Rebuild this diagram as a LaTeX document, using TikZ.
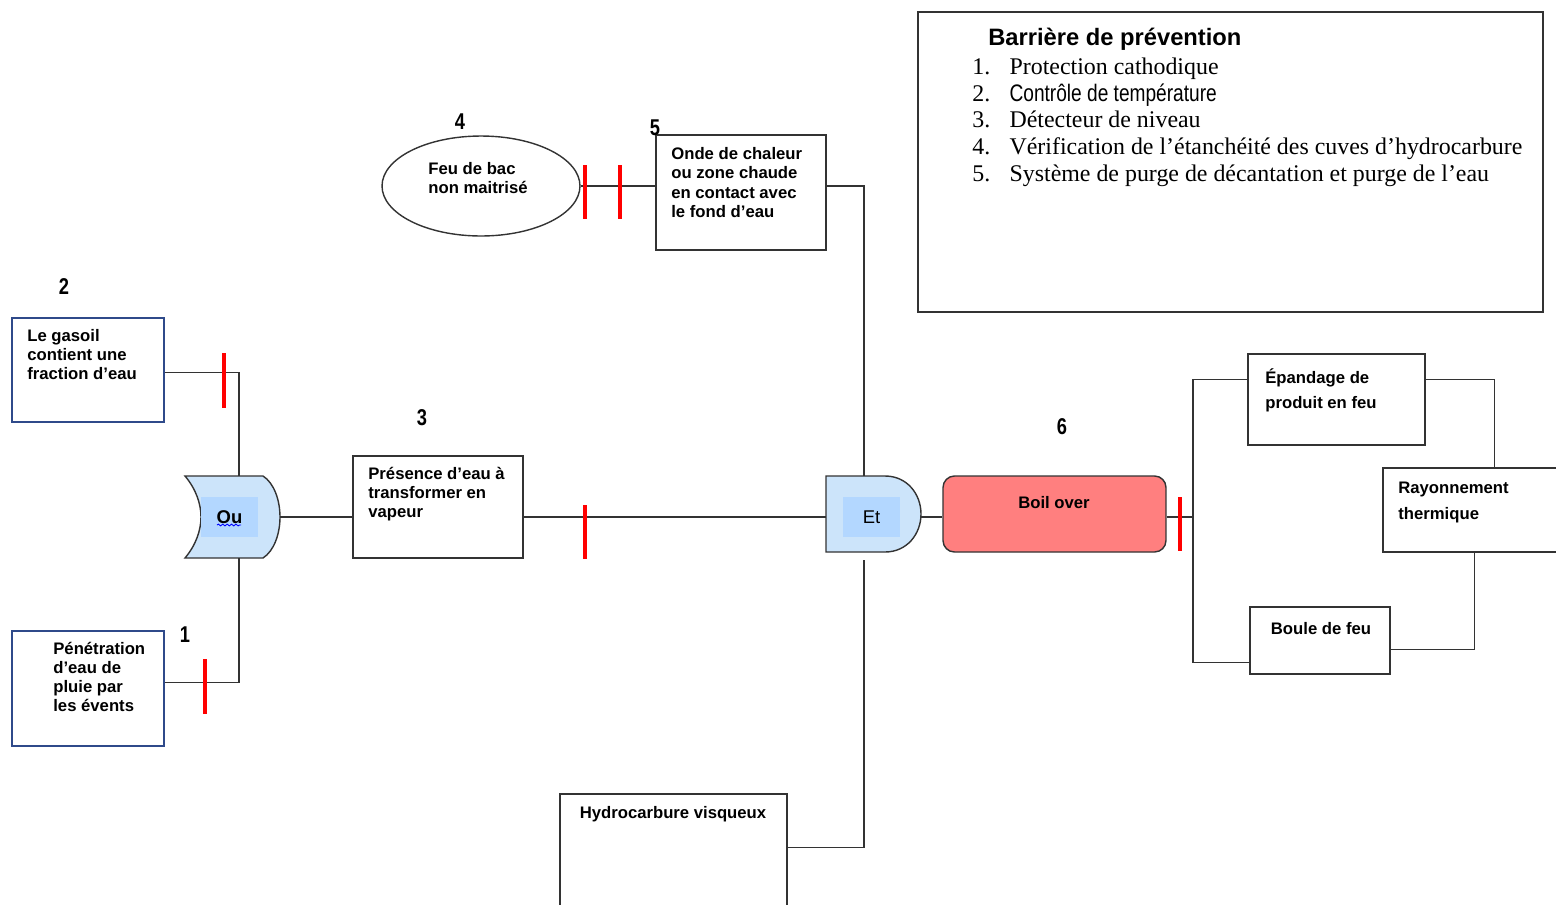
\documentclass[tikz,border=0pt]{standalone}
\usepackage{fontspec}
\setmainfont{Liberation Serif}
\setsansfont{Liberation Sans}
\newfontfamily\narrowsans{Liberation Sans}[FakeStretch=0.8]
\usetikzlibrary{shapes,fit,calc,decorations.pathmorphing}
\definecolor{gatefill}{HTML}{CCE4FA}
\definecolor{gateinner}{HTML}{B3D7FF}
\definecolor{boilfill}{HTML}{FF7F7F}
\definecolor{framegray}{HTML}{333333}
\definecolor{boxblue}{HTML}{2F4A8A}

\begin{document}
\begin{tikzpicture}[x=0.02cm, y=-0.02cm,
  box/.style={draw=framegray, line width=0.8pt, inner sep=0pt},
  bluebox/.style={draw=boxblue, line width=0.8pt, inner sep=0pt},
  txt/.style={font=\sffamily\bfseries\fontsize{9.5}{10.8}\selectfont, align=left, inner sep=0pt, anchor=north west},
  widetxt/.style={font=\sffamily\bfseries\fontsize{9.5}{14.7}\selectfont, align=left, inner sep=0pt, anchor=north west},
  num/.style={font=\narrowsans\bfseries\fontsize{13}{13}\selectfont, inner sep=0pt},
  gate/.style={draw=framegray, line width=0.8pt, fill=gatefill},
  inner/.style={fill=gateinner, minimum width=1.14cm, minimum height=0.8cm, inner sep=0pt, font=\sffamily\fontsize{10.5}{10.5}\selectfont},
  barrier/.style={draw=red, line width=2.8pt},
  link/.style={draw=framegray, line width=0.6pt}]
  \useasboundingbox (0,0) rectangle (1556,904);

  % legende
  \node[box, fit={(918,12) (1543,312)}] (legende) {};
  \node[font=\sffamily\bfseries\fontsize{13.5}{13.5}\selectfont, anchor=west, inner sep=0pt] (titre) at (988,39) {Barrière de prévention};
  \node[anchor=north west, inner sep=0pt, font=\fontsize{13.6}{15.3}\selectfont] (liste) at (972,55) {%
    \begin{tabular}{@{}l@{\hspace{11pt}}l@{}}
      1. & Protection cathodique\\
      2. & {\narrowsans Contrôle de température}\\
      3. & Détecteur de niveau\\
      4. & Vérification de l’étanchéité des cuves d’hydrocarbure\\
      5. & Système de purge de décantation et purge de l’eau
    \end{tabular}};

  % evenements
  \node[bluebox, fit={(12,318) (164,422)}] (gasoil) {};
  \node[txt] (gasoilT) at (27,329) {Le gasoil\\contient une\\fraction d’eau};
  \node[bluebox, fit={(12,631) (164,746)}] (penetration) {};
  \node[txt] (penetrationT) at (53,642) {Pénétration\\d’eau de\\pluie par\\les évents};
  \node[box, fit={(353,456) (523,558)}] (presence) {};
  \node[txt] (presenceT) at (368,467) {Présence d’eau à\\transformer en\\vapeur};
  \node[draw=framegray, line width=0.8pt, ellipse, minimum width=3.96cm, minimum height=2cm, inner sep=0pt] (feu) at (481,186) {};
  \node[txt] (feuT) at (428,162) {Feu de bac\\non maitrisé};
  \node[box, fit={(656,135) (826,250)}] (onde) {};
  \node[txt, font=\sffamily\bfseries\fontsize{9.5}{11}\selectfont] (ondeT) at (671,147) {Onde de chaleur\\ou zone chaude\\en contact avec\\le fond d’eau};
  \node[box, fit={(560,794) (787,960)}] (hydro) {};
  \node[txt, anchor=north] (hydroT) at (673,806) {Hydrocarbure visqueux};

  % portes
  \draw[gate] (185,476) -- (263,476) .. controls (274,483) and (280,500) .. (280,517)
    .. controls (280,534) and (274,551) .. (263,558) -- (185,558)
    .. controls (196,545) and (201,530) .. (201,517) .. controls (201,504) and (196,489) .. (185,476) -- cycle;
  \node[inner, font=\sffamily\bfseries\fontsize{10.5}{10.5}\selectfont] (ou) at (229.5,517) {Ou};
  \draw[blue, line width=0.5pt, decorate, decoration={snake, amplitude=0.5pt, segment length=2.5pt}] (217,525) -- (241,525);
  \coordinate (ou-n) at (239,476);
  \coordinate (ou-s) at (239,558);
  \coordinate (ou-e) at (280,517);

  \draw[gate] (826,476) -- (885,476) .. controls (907,476) and (921,494) .. (921,514)
    .. controls (921,534) and (907,552) .. (885,552) -- (826,552) -- cycle;
  \node[inner] (et) at (871.5,517) {Et};
  \coordinate (et-n) at (864,476);
  \coordinate (et-s) at (864,560);
  \coordinate (et-w) at (826,517);
  \coordinate (et-e) at (921,517);

  % evenement redoute
  \node[draw=framegray, line width=0.8pt, fill=boilfill, rounded corners=6.5pt, minimum width=4.46cm, minimum height=1.52cm, inner sep=0pt] (boil) at (1054.5,514) {};
  \node[txt, anchor=north] (boilT) at (1054,496) {Boil over};

  % consequences
  \node[box, fit={(1248,354) (1425,445)}] (epandage) {};
  \node[widetxt] (epandageT) at (1265,368) {Épandage de\\produit en feu};
  \node[box, fit={(1383,468) (1570,552)}] (rayonnement) {};
  \node[widetxt] (rayonnementT) at (1398,482) {Rayonnement\\thermique};
  \node[box, fit={(1250,607) (1390,674)}] (boule) {};
  \node[txt, anchor=north] (bouleT) at (1321,622) {Boule de feu};
  \coordinate (split) at (1193,517);

  % liens
  \draw[link] ($(gasoil.north east)+(0,55)$) -| (ou-n);
  \draw[link] ($(penetration.north east)+(0,52)$) -| (ou-s);
  \draw[link] (ou-e) -- (ou-e -| presence.west);
  \draw[link] (presence.east |- ou-e) -- (et-w);
  \draw[link] (feu.east) -- (feu.east -| onde.west);
  \draw[link] (onde.east |- feu.east) -| (et-n);
  \draw[link] (et-s) |- ($(hydro.north east)+(0,54)$);
  \draw[link] (et-e) -- (et-e -| boil.west);
  \draw[link] (boil.east |- et-e) -- (split);
  \draw[link] ($(epandage.north west)+(0,26)$) -| (split) |- ($(boule.north west)+(0,56)$);
  \draw[link] ($(epandage.north east)+(0,26)$) -| ($(rayonnement.north west)+(112,0)$);
  \draw[link] ($(rayonnement.south west)+(92,0)$) |- ($(boule.north east)+(0,43)$);

  % barrieres
  \draw[barrier] (224,353) -- (224,408);
  \draw[barrier] (205,659) -- (205,714);
  \draw[barrier] (585,505) -- (585,559);
  \draw[barrier] (585,165) -- (585,219);
  \draw[barrier] (620,165) -- (620,219);
  \draw[barrier] (1180,497) -- (1180,551);

  % numeros
  \node[num] (n1) at (185,635) {1};
  \node[num] (n2) at (64,287) {2};
  \node[num] (n3) at (422,418) {3};
  \node[num] (n4) at (460,122) {4};
  \node[num] (n5) at (655,128) {5};
  \node[num] (n6) at (1062,427) {6};
\end{tikzpicture}
\end{document}
